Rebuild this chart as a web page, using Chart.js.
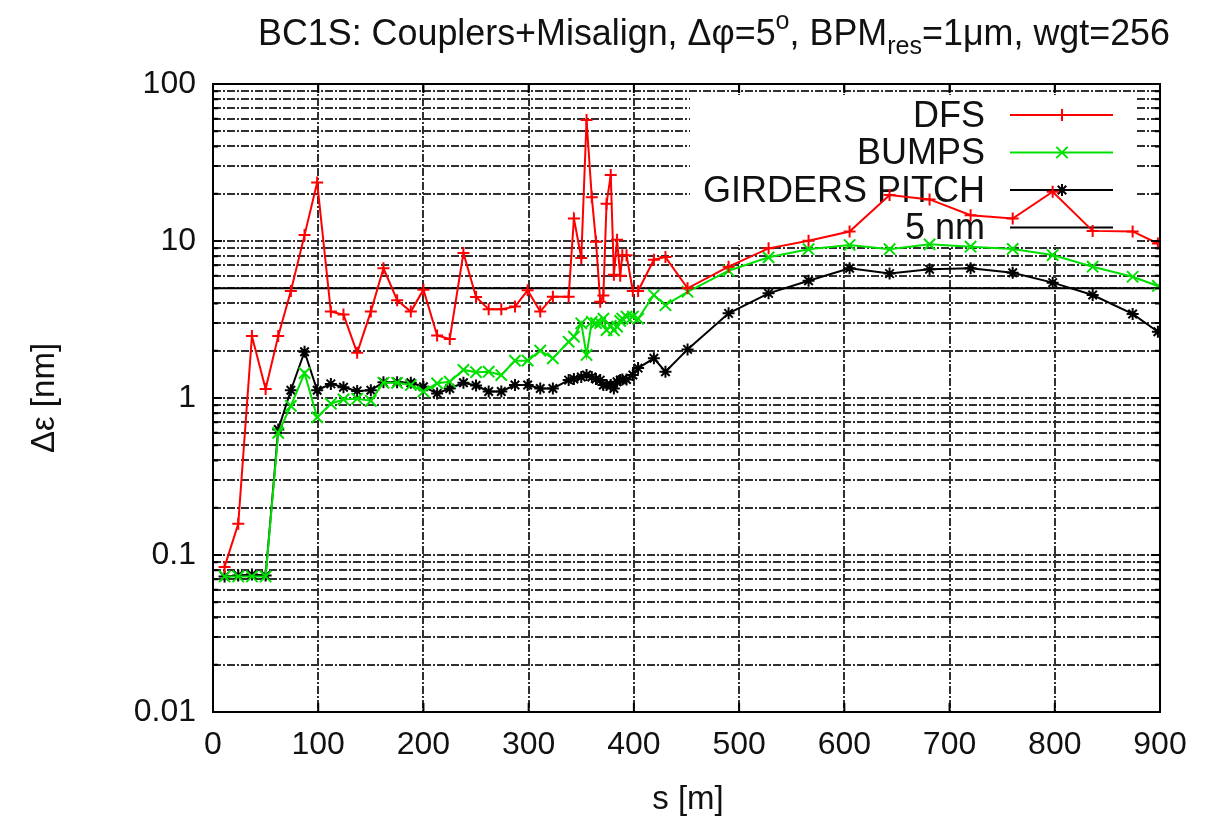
<!DOCTYPE html>
<html>
<head>
<meta charset="utf-8">
<script src="https://cdn.jsdelivr.net/npm/chart.js@4.4.0/dist/chart.umd.min.js"></script>
<style>
	body { margin: 0; background: #fff; }
	#wrap { width: 1212px; height: 827px; }
</style>
</head>
<body>
<div id="wrap"><canvas id="emitChart" width="1212" height="827"></canvas></div>
<script>
// Position along the linac, s [m]
const sPos = [
	11, 24, 37, 50, 62, 74, 87, 99,
	112, 124, 137, 150, 162, 175, 188, 200,
	213, 225, 238, 250, 262, 274, 287, 299,
	311, 323, 338, 343, 350, 355, 360, 364,
	368, 371, 374, 378, 381, 384, 387, 389,
	393, 399, 404, 419, 430, 451, 490, 528,
	566, 605, 643, 681, 720, 760, 798, 836,
	874, 898
];

// Emittance growth [nm] for each correction scheme
const dfs = [
	0.084, 0.158, 2.48, 1.14, 2.48, 4.8, 10.9, 23.6,
	3.55, 3.4, 1.94, 3.55, 6.7, 4.2, 3.55, 4.9,
	2.5, 2.38, 8.4, 4.4, 3.67, 3.67, 3.82, 4.85,
	3.55, 4.42, 4.42, 13.9, 7.8, 59, 19, 9.9,
	4.1, 4.5, 17.3, 26.3, 6.1, 10.2, 6.0, 8.1,
	8.1, 4.8, 4.8, 7.6, 7.9, 5.0, 6.86, 8.98,
	10.05, 11.5, 19.6, 18.4, 14.6, 13.9, 20.6, 11.6,
	11.5, 9.64
];
const bumps = [
	0.073, 0.073, 0.073, 0.073, 0.6, 0.89, 1.44, 0.753,
	0.92, 0.98, 0.99, 0.96, 1.25, 1.25, 1.21, 1.10,
	1.24, 1.27, 1.51, 1.46, 1.47, 1.40, 1.73, 1.73,
	2.0, 1.79, 2.28, 2.46, 2.99, 1.88, 3.06, 3.0,
	3.0, 3.2, 2.71, 2.88, 2.7, 2.85, 3.1, 3.2,
	3.3, 3.3, 3.2, 4.53, 3.9, 4.75, 6.47, 7.87,
	8.87, 9.43, 8.87, 9.52, 9.2, 8.9, 8.14, 6.86,
	5.92, 5.17
];
const girders = [
	0.073, 0.074, 0.075, 0.074, 0.63, 1.12, 1.97, 1.12,
	1.23, 1.17, 1.11, 1.12, 1.26, 1.26, 1.25, 1.18,
	1.07, 1.15, 1.25, 1.2, 1.10, 1.10, 1.21, 1.21,
	1.15, 1.15, 1.30, 1.32, 1.36, 1.40, 1.36, 1.32,
	1.30, 1.21, 1.21, 1.21, 1.15, 1.27, 1.30, 1.31,
	1.31, 1.40, 1.55, 1.79, 1.47, 2.04, 3.46, 4.64,
	5.58, 6.7, 6.2, 6.6, 6.7, 6.28, 5.43, 4.53,
	3.43, 2.64
];

// Reference level and axis ranges
const nmLevel = 5;
const sRange = [0, 900];
const yDecades = [0.01, 0.1, 1, 10, 100];

const seriesNames = ["DFS", "BUMPS", "GIRDERS PITCH", "5 nm"];

const FONT = "'Liberation Sans', Arial, Helvetica, sans-serif";

// all minor tick values 1..9 per decade -> one grid line each
const yTickValues = [];
for (let d = 0; d < yDecades.length - 1; d++) {
	for (let m = 1; m <= 9; m++) {
		yTickValues.push(parseFloat((m * yDecades[d]).toPrecision(3)));
	}
}
yTickValues.push(yDecades[yDecades.length - 1]);

const toPoints = (vals) => sPos.map((s, i) => ({ x: s, y: vals[i] }));

const seriesStyle = [
	{ color: "#ff0000", point: "cross", radius: 6 },
	{ color: "#00e000", point: "crossRot", radius: 8 },
	{ color: "#000000", point: "star", radius: 6 },
	{ color: "#000000", point: false, radius: 0 },
];

// white key box: grid is hidden behind it, curves run over it
const keyBox = { left: 690, top: 95, right: 1135, bottom: 245 };

const keyPlugin = {
	id: "keyBox",
	beforeDatasetsDraw(chart) {
		const ctx = chart.ctx;
		ctx.save();
		ctx.fillStyle = "#fff";
		ctx.fillRect(keyBox.left, keyBox.top, keyBox.right - keyBox.left, keyBox.bottom - keyBox.top);
		ctx.font = "36px " + FONT;
		ctx.textAlign = "right";
		ctx.textBaseline = "middle";
		seriesNames.forEach((name, i) => {
			const y = 115 + i * 37.5;
			const st = seriesStyle[i];
			ctx.fillStyle = "#111";
			ctx.fillText(name, 985, y + 2);
			ctx.strokeStyle = st.color;
			ctx.fillStyle = st.color;
			ctx.lineWidth = 2;
			ctx.beginPath();
			ctx.moveTo(1010, y);
			ctx.lineTo(1113, y);
			ctx.stroke();
			if (st.point) {
				Chart.helpers.drawPoint(ctx, { pointStyle: st.point, radius: st.radius, borderWidth: 2, rotation: 0 }, 1062, y);
			}
		});
		ctx.restore();
	},
};

// frame with inward tics, drawn over everything in the plot area
const framePlugin = {
	id: "frame",
	afterDatasetsDraw(chart) {
		const { ctx, chartArea: a, scales } = chart;
		ctx.save();
		ctx.strokeStyle = "#000";
		ctx.lineWidth = 2;
		ctx.strokeRect(a.left, a.top, a.right - a.left, a.bottom - a.top);
		ctx.beginPath();
		for (let s = sRange[0]; s <= sRange[1]; s += 100) {
			const x = scales.x.getPixelForValue(s);
			ctx.moveTo(x, a.bottom); ctx.lineTo(x, a.bottom - 9);
			ctx.moveTo(x, a.top); ctx.lineTo(x, a.top + 9);
		}
		yTickValues.forEach((v) => {
			const y = scales.y.getPixelForValue(v);
			const len = yDecades.includes(v) ? 9 : 5;
			ctx.moveTo(a.left, y); ctx.lineTo(a.left + len, y);
			ctx.moveTo(a.right, y); ctx.lineTo(a.right - len, y);
		});
		ctx.stroke();
		ctx.restore();
	},
};

// title with super/subscripts and axis titles
const textPlugin = {
	id: "texts",
	afterDraw(chart) {
		const ctx = chart.ctx;
		ctx.save();
		ctx.fillStyle = "#111";
		const base = 36;
		const parts = [
			{ t: "BC1S: Couplers+Misalign, \u0394\u03c6=5", k: 1, dy: 0 },
			{ t: "o", k: 0.7, dy: -16 },
			{ t: ", BPM", k: 1, dy: 0 },
			{ t: "res", k: 0.7, dy: 9 },
			{ t: "=1\u03bcm, wgt=256", k: 1, dy: 0 },
		];
		let total = 0;
		parts.forEach((p) => {
			ctx.font = base * p.k + "px " + FONT;
			p.w = ctx.measureText(p.t).width;
			total += p.w;
		});
		const targetW = 912;
		const sx = Math.min(1, targetW / total);
		ctx.translate(714 - (total * sx) / 2, 45);
		ctx.scale(sx, 1);
		ctx.textBaseline = "alphabetic";
		ctx.textAlign = "left";
		let x = 0;
		parts.forEach((p) => {
			ctx.font = base * p.k + "px " + FONT;
			ctx.fillText(p.t, x, p.dy);
			x += p.w;
		});
		ctx.restore();

		ctx.save();
		ctx.fillStyle = "#111";
		ctx.font = "33px " + FONT;
		ctx.textAlign = "center";
		ctx.textBaseline = "middle";
		ctx.fillText("s [m]", 688, 800);
		ctx.translate(45, 398);
		ctx.rotate(-Math.PI / 2);
		ctx.fillText("\u0394\u03b5 [nm]", 0, 0);
		ctx.restore();
	},
};

const gridOpts = { color: "#303030", lineWidth: 2, drawTicks: false };
const borderOpts = { display: false, dash: [8, 2, 2, 2] };

const ctx = document.getElementById("emitChart").getContext("2d");
new Chart(ctx, {
	type: "line",
	data: {
		datasets: [
			{ label: seriesNames[0], data: toPoints(dfs) },
			{ label: seriesNames[1], data: toPoints(bumps) },
			{ label: seriesNames[2], data: toPoints(girders) },
			{ label: seriesNames[3], data: [{ x: sRange[0], y: nmLevel }, { x: sRange[1], y: nmLevel }] },
		].map((ds, i) => ({
			...ds,
			borderColor: seriesStyle[i].color,
			backgroundColor: seriesStyle[i].color,
			pointBorderColor: seriesStyle[i].color,
			pointStyle: seriesStyle[i].point || "circle",
			pointRadius: seriesStyle[i].radius,
			pointBorderWidth: 2,
			borderWidth: 2,
			tension: 0,
			fill: false,
		})),
	},
	options: {
		responsive: false,
		animation: false,
		layout: { padding: { top: 84, right: 52, left: 0, bottom: 0 } },
		plugins: { legend: { display: false }, tooltip: { enabled: false } },
		scales: {
			x: {
				type: "linear",
				min: sRange[0],
				max: sRange[1],
				afterFit: (s) => { s.height = 115; },
				ticks: {
					stepSize: 100, autoSkip: false, maxRotation: 0, padding: 14,
					color: "#111", font: { family: FONT, size: 32 },
				},
				grid: gridOpts,
				border: borderOpts,
			},
			y: {
				type: "logarithmic",
				min: yDecades[0],
				max: yDecades[yDecades.length - 1],
				afterFit: (s) => { s.width = 213; },
				afterBuildTicks: (s) => { s.ticks = yTickValues.map((v) => ({ value: v })); },
				ticks: {
					autoSkip: false, padding: 17, color: "#111", font: { family: FONT, size: 32 },
					callback: (v) => {
						const e = Math.log10(v);
						if (Math.abs(e - Math.round(e)) > 1e-6) return "";
						return v >= 1 ? String(Math.round(v)) : v.toFixed(-Math.round(e));
					},
				},
				grid: gridOpts,
				border: borderOpts,
			},
		},
	},
	plugins: [keyPlugin, framePlugin, textPlugin],
});
</script>
</body>
</html>
